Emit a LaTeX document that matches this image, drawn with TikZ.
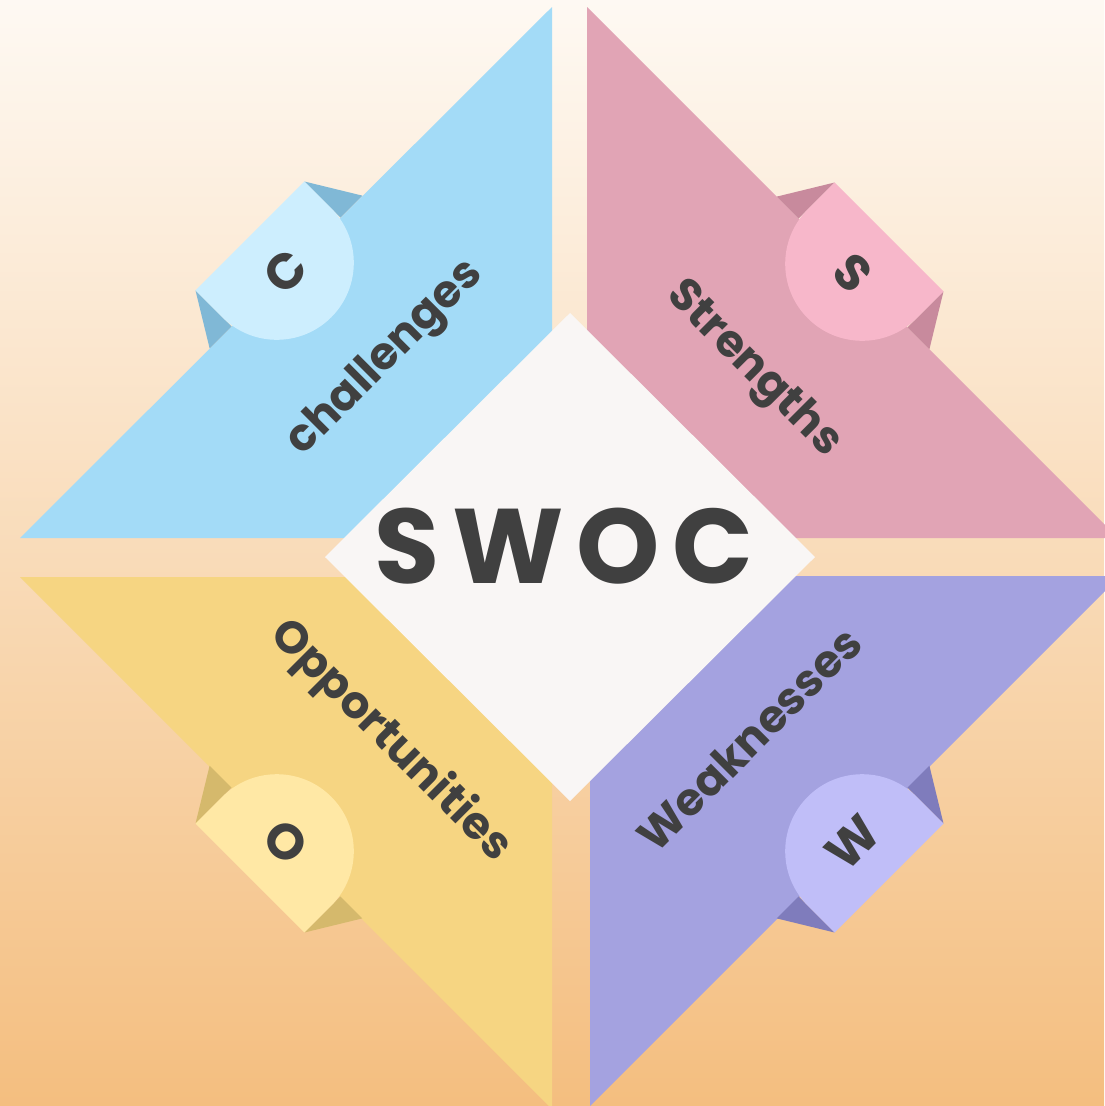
\documentclass[tikz,border=0pt]{standalone}
\usepackage{fontspec}
\setmainfont{Poppins}
\definecolor{bgtop}{RGB}{254,249,243}
\definecolor{bgmid}{RGB}{250,226,200}
\definecolor{bgbot}{RGB}{244,190,127}
\definecolor{cblue}{RGB}{163,219,247}
\definecolor{cbluetab}{RGB}{205,238,254}
\definecolor{cbluefold}{RGB}{128,184,214}
\definecolor{spink}{RGB}{225,164,181}
\definecolor{spinktab}{RGB}{247,183,202}
\definecolor{spinkfold}{RGB}{200,138,157}
\definecolor{oyellow}{RGB}{246,213,130}
\definecolor{oyellowtab}{RGB}{255,232,165}
\definecolor{oyellowfold}{RGB}{213,185,108}
\definecolor{wviolet}{RGB}{164,162,224}
\definecolor{wviolettab}{RGB}{192,190,248}
\definecolor{wvioletfold}{RGB}{127,124,188}
\definecolor{corefill}{RGB}{249,246,245}
\definecolor{ink}{RGB}{64,64,64}

\begin{document}
\begin{tikzpicture}[x=1pt,y=-1pt,
  quadtext/.style={font=\bfseries\fontsize{45}{45}\selectfont, text=ink, inner sep=0pt},
  tabtext/.style={font=\bfseries\fontsize{50}{50}\selectfont, text=ink, inner sep=0pt}]
  \useasboundingbox (0,0) rectangle (1104,1106);
  \shade[top color=bgtop, middle color=bgmid, bottom color=bgbot] (0,0) rectangle (1104,1106);
  \fill[cblue] (20,538) -- (552,7) -- (552,538) -- cycle;
  \fill[spink] (587,7) -- (1118,538) -- (587,538) -- cycle;
  \fill[oyellow] (20,577) -- (552,577) -- (552,1109) -- cycle;
  \fill[wviolet] (590,576) -- (1120,576) -- (590,1106) -- cycle;
  \foreach \bx/\by/\turn/\tabfill/\foldfill/\letter/\tilt in
    {286/272/45/cbluetab/cbluefold/C/45, 853/273/-45/spinktab/spinkfold/S/-45,
     286/842/135/oyellowtab/oyellowfold/O/-45, 853/842/-135/wviolettab/wvioletfold/W/45}
  {
    \begin{scope}[shift={(\bx,\by)}, rotate=\turn]
      \fill[\foldfill] (77,-51) -- (108,0) -- (77,0) -- cycle;
      \fill[\foldfill] (-77,-51) -- (-108,0) -- (-77,0) -- cycle;
      \fill[\tabfill] (-77,-51) -- (77,-51) -- (77,-13)
        arc[start angle=0, end angle=180, radius=77] -- cycle;
    \end{scope}
    \node[tabtext, rotate=\tilt] (tab\letter) at (\bx,\by) {\letter};
  }
  \fill[corefill] (570,313) -- (815,557) -- (570,801) -- (325,557) -- cycle;
  \node[font=\bfseries\fontsize{106}{106}\selectfont, text=ink, inner sep=0pt] (core)
    at (564,546) {\addfontfeature{LetterSpace=12}SWOC};
  \node[quadtext, rotate=45] (challenges) at (386,359) {challenges};
  \node[quadtext, rotate=-45] (strengths) at (753,370) {Strengths};
  \node[quadtext, rotate=-45] (opportunities) at (390,741) {Opportunities};
  \node[quadtext, rotate=45] (weaknesses) at (749,739) {Weaknesses};
\end{tikzpicture}
\end{document}
